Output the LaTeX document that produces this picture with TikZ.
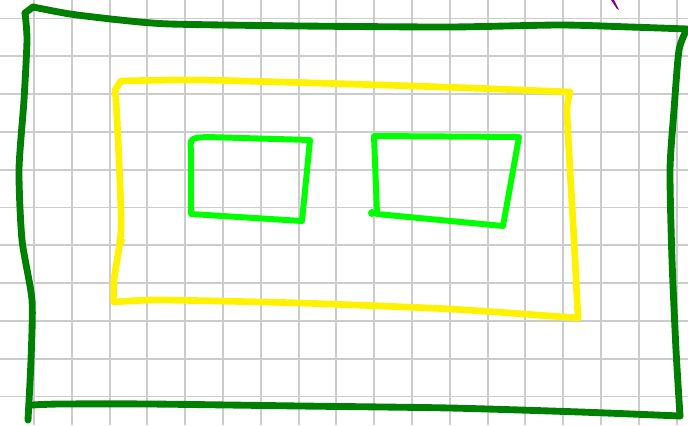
\documentclass[tikz,border=0pt]{standalone}
\begin{document}
\begin{tikzpicture}[
    x=0.02cm, y=-0.02cm,
    gridline/.style={draw=gray!40, line width=1.1pt},
    outerline/.style={draw=green!50!black, line width=3.9pt, line cap=round, line join=round},
    frameline/.style={draw=yellow, line width=3.8pt, line cap=round, line join=round},
    boxline/.style={draw=green, line width=3.4pt, line cap=round, line join=round}
]
\definecolor{markpurple}{RGB}{128,0,128}
\useasboundingbox (0,0) rectangle (688,425);

% ======================
% Grid paper
% ======================
\foreach \i in {0,...,17} {
    \draw[gridline] (34+37.8*\i, 0) -- (34+37.8*\i, 425);
}
\foreach \j in {0,...,10} {
    \draw[gridline] (0, 18.5+37.8*\j) -- (688, 18.5+37.8*\j);
}

% ======================
% Outer border (dark green)
% ======================
\draw[outerline] plot[smooth, tension=0.4] coordinates {
    (25,13) (27,40) (24,100) (19,170) (22,240) (32,300) (31,360) (28,420)};
\draw[outerline] (25,13) -- (33,7);
\draw[outerline] plot[smooth, tension=0.4] coordinates {
    (33,7) (70,14) (120,20) (170,24) (300,26) (450,27) (560,25) (630,27) (687,29)};
\draw[outerline] plot[smooth, tension=0.4] coordinates {
    (687,29) (679,50) (674,110) (670,170) (672,260) (676,350) (680,416)};
\draw[outerline] plot[smooth, tension=0.4] coordinates {
    (32,405) (60,404) (150,404) (300,406) (450,408) (580,412) (680,416)};

% ======================
% Inner frame (yellow)
% ======================
\draw[frameline] (116,100) -- (115,90) -- (121,81);
\draw[frameline] plot[smooth, tension=0.4] coordinates {
    (121,81) (200,80) (350,84) (470,88) (570,92)};
\draw[frameline] plot[smooth, tension=0.4] coordinates {
    (570,92) (567,110) (570,170) (574,240) (578,318)};
\draw[frameline] plot[smooth, tension=0.4] coordinates {
    (114,302) (160,300) (300,303) (450,309) (578,318)};
\draw[frameline] plot[smooth, tension=0.4] coordinates {
    (116,100) (119,160) (121,230) (114,280) (114,302)};
\draw[frameline, line width=1.5pt] (119,250) -- (124,240);

% ======================
% Windows (light green)
% ======================
\draw[boxline] (191,152) .. controls (190,138) .. (207,137) -- (310,140)
    -- (302,221) -- (191,214) -- cycle;
\draw[boxline] (374,136) -- (519,137) -- (503,226) -- (377,214)
    -- cycle;
\fill[green] (372,213) circle (4);

% ======================
% Stray mark (purple)
% ======================
\fill[markpurple] (611,0) -- (614,0) -- (619,10) -- (617,9) -- cycle;

\end{tikzpicture}
\end{document}
